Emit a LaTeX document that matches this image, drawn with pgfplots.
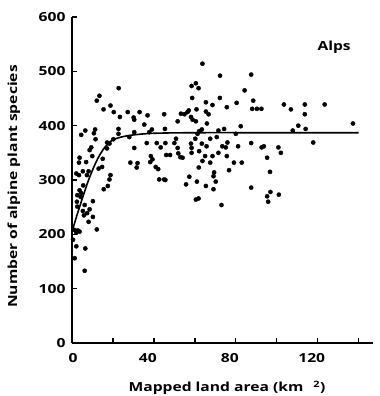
\documentclass[border=0pt]{standalone}
\usepackage{fontspec}
\setmainfont{Open Sans}[FakeStretch=1.25]
\usepackage{pgfplots}
\pgfplotsset{compat=1.18}
\begin{document}
\begin{tikzpicture}
\begin{axis}[name=ax, scale only axis, width=301pt, height=326pt,
  xmin=0, xmax=147, ymin=0, ymax=600,
  axis lines*=left,
  axis line style={line width=1.8pt, black},
  xtick={0,20,...,140},
  xticklabels={\hspace*{14pt}0,,40,,80,,120,},
  ytick={0,100,...,600},
  tick align=inside, major tick length=5pt,
  tick style={line width=1.3pt, black},
  tick label style={font=\bfseries\fontsize{12.5}{14}\selectfont},
  xticklabel style={xshift=-6pt, yshift=-7pt},
  yticklabel style={xshift=-3pt},
  label style={font=\bfseries\fontsize{12.5}{14}\selectfont},
  /pgf/number format/assume math mode=true,
  xlabel={Mapped land area (km\hspace{0.8em}\textsuperscript{2})},
  ylabel={Number of alpine plant species},
  xlabel style={at={(axis description cs:0.515,-0.138)}, anchor=center},
  ylabel style={at={(axis description cs:-0.193,0.48)}, anchor=center},
  clip=false,
]
\addplot[only marks, mark=*, mark size=2.1pt, black] coordinates {
(22.8,469)(13.4,455)(12.1,446)(15.4,430)(18.8,437)(20.4,425)(23.4,416)(27.2,425)
(30.1,415)(30.4,411)(33,425)(36.9,419)(45,421)(35.3,402)(39,393)(37.7,388)
(30.4,388)(22.7,394)(22.7,385)(28,379)(11.3,393)(10.7,386)(6.5,391)(4.5,383)
(11.5,375)(17.1,369)(18.3,367)(20.2,375)(30.4,359)(36.5,368)(41.4,368)(43.3,360)
(9.4,360)(8.6,355)(17.1,358)(3.7,341)(3.4,332)(9.9,344)(6.9,333)(15,339)
(13,321)(14.7,324)(28.5,332)(32,331)(31.6,323)(38.5,344)(39.3,338)(38.2,333)
(40.9,324)(42.1,320)(5.3,316)(8.1,316)(7.3,309)(2.1,312)(3.4,309)(18.8,309)
(18.3,301)(42.6,301)(45,301)(5.5,290)(3.7,281)(4.5,276)(17.5,289)(15.5,283)
(2.6,272)(4.2,269)(10.2,261)(6.2,254)(2.4,260)(2.6,251)(8.6,246)(5.3,243)
(10.2,232)(7.4,239)(5.8,235)(8.1,223)(12.1,209)(1.3,208)(2.9,207)(3.7,205)
(2.1,203)(0.5,190)(2.1,178)(6.5,174)(1.3,156)(6.2,133)
(63.7,514)(72.3,492)(87.5,494)(58.4,473)(60.5,478)(61.8,469)(84.3,465)(58.7,451)
(72.2,451)(88.5,446)(65.4,443)(68.6,438)(80.4,442)(75.6,434)(88,431)(90.3,431)
(92.5,431)(60.8,430)(53.2,422)(54.9,421)(56.4,425)(57,428)(65.4,426)(66.7,421)
(58.1,416)(58.9,411)(60.5,408)(51.6,408)(65.9,404)(82.4,399)(45.4,394)(62.1,390)
(63.4,393)(61.3,385)(71.5,391)(74.3,394)(80,385)(50.8,376)(60.2,376)(67.5,376)
(70.7,379)(45.6,368)(50,368)(58.1,367)(63.4,367)(75.9,369)(87.5,368)(93.7,362)
(92.6,360)(51.6,359)(65.7,362)(73.4,362)(75.1,360)(81.1,362)(46,346)(47.9,346)
(51.9,349)(52.9,342)(54,341)(58.4,359)(58.4,350)(62.1,353)(65,344)(68.6,344)
(71.5,350)(75.6,344)(63.7,335)(67.5,332)(79.1,332)(82.9,332)(95.3,341)(61.9,323)
(76.7,318)(69.4,314)(69.1,307)(57.3,306)(70.2,297)(61,297)(55.7,292)(65.4,289)
(45.6,300)(87.5,286)(69.1,283)(60.5,264)(61.8,266)(73,254)(95.3,270)(95.8,260)
(96.9,278)(101,273)
(103.5,439)(106.9,430)(113.7,439)(123.4,439)(113.7,421)(110.5,400)(114.1,394)
(107.8,391)(137.2,404)(117.8,369)(100.8,360)(102,350)(96.7,315)
};
\addplot[black, line width=1.6pt, smooth] coordinates {
(0,205)(2,230)(4,254)(6,277)(8,299)(10,318)(12,335)(14,349)(16,360)(18,368)
(20,374)(24,379)(30,383)(40,386)(60,387)(100,387)(140,387)
};
\node[font=\bfseries\fontsize{12.5}{14}\selectfont] at (axis cs:128,545) {Alps};
\end{axis}
\pgfresetboundingbox
\path ([xshift=-72pt,yshift=-53pt]ax.south west) rectangle ([xshift=6pt,yshift=17pt]ax.north east);
\end{tikzpicture}
\end{document}
